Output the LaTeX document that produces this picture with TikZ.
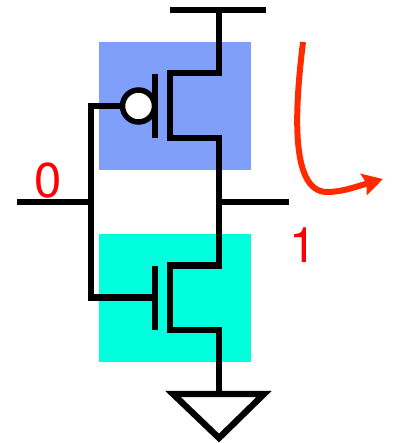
\documentclass[tikz,border=0pt]{standalone}
\usepackage{fontspec}
\setmainfont{TeX Gyre Heros}
\usetikzlibrary{arrows.meta}
\definecolor{pullup}{RGB}{128,159,251}
\definecolor{pulldown}{RGB}{0,255,221}
\definecolor{swing}{RGB}{255,42,0}
\tikzset{
    wire/.style={line width=6.3pt},
    level/.style={text=red, font=\fontsize{49}{49}\selectfont, inner sep=0pt},
}
\begin{document}
\begin{tikzpicture}[x=1pt, y=-1pt]
    \useasboundingbox (0, 0) rectangle (393, 443);
    % shaded regions
    \fill [pullup] (99, 42) rectangle (251, 170);
    \fill [pulldown] (99, 234) rectangle (251, 362);
    % rails and wire points
    \coordinate (vddL) at (170, 10);
    \coordinate (vddR) at (266, 10);
    \coordinate (vdd) at (219, 10);
    \coordinate (in) at (17, 202);
    \coordinate (inJ) at (91, 202);
    \coordinate (gateP) at (91, 106);
    \coordinate (gateN) at (91, 297.5);
    \coordinate (out) at (289, 202);
    \coordinate (outJ) at (219, 202);
    % pmos
    \coordinate (pPlateT) at (155, 74);
    \coordinate (pPlateB) at (155, 138);
    \coordinate (pChanT) at (170, 73);
    \coordinate (pChanB) at (170, 138);
    \coordinate (pTop) at (219, 73);
    \coordinate (pBot) at (219, 138);
    \node [circle, draw, line width=5.5pt, fill=white, minimum size=32pt, inner sep=0pt, outer sep=0pt] (bubble) at (138.5, 106) {};
    % nmos
    \coordinate (nPlateT) at (155, 266);
    \coordinate (nPlateB) at (155, 330);
    \coordinate (nPlateG) at (155, 297.5);
    \coordinate (nChanT) at (170, 265.5);
    \coordinate (nChanB) at (170, 330);
    \coordinate (nTop) at (219, 265.5);
    \coordinate (nBot) at (219, 330);
    % ground
    \coordinate (gndJ) at (219, 394);
    \coordinate (gndL) at (173, 394);
    \coordinate (gndR) at (264, 394);
    \coordinate (gndT) at (219, 438);
    % wires
    \draw [wire] (vddL) to (vddR);
    \draw [wire] (vdd) to (pTop) to (pChanT) to (pChanB) to (pBot) to (nTop) to (nChanT) to (nChanB) to (nBot) to (gndJ);
    \draw [wire] (pPlateT) to (pPlateB);
    \draw [wire] (nPlateT) to (nPlateB);
    \draw [wire] (bubble) to (gateP) to (gateN) to (nPlateG);
    \draw [wire] (in) to (inJ);
    \draw [wire] (outJ) to (out);
    \draw [wire] (gndL) to (gndR) to (gndT) to cycle;
    % levels
    \node [level] (zero) at (48, 180) {0};
    \node [level] (one) at (303, 245) {1};
    % output swing
    \coordinate (swingA) at (303, 42);
    \draw [swing, line width=6pt, -{Stealth[length=20pt, width=22pt, inset=3pt]}]
        (swingA) .. controls (296, 100) and (288, 192) .. (327, 192)
        .. controls (342, 192) and (355, 187) .. (383, 179);
\end{tikzpicture}
\end{document}
